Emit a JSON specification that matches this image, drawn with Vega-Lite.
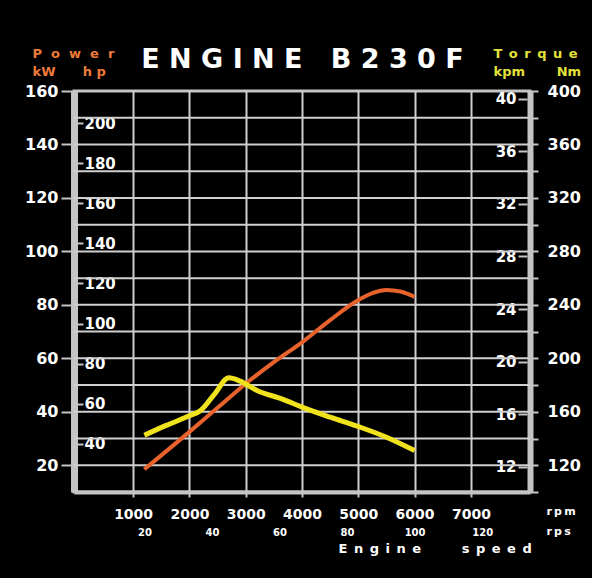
{
  "$schema": "https://vega.github.io/schema/vega-lite/v6.json",
  "width": 456,
  "height": 401,
  "autosize": {"type": "none"},
  "padding": {"left": 74, "top": 91, "right": 62, "bottom": 86},
  "background": "#000000",
  "view": {"stroke": "#c4c4c4", "strokeWidth": 3},
  "config": {
    "axis": {
      "labelFont": "DejaVu Sans",
      "labelFontWeight": "bold",
      "labelColor": "#ffffff",
      "titleFont": "DejaVu Sans",
      "titleFontWeight": "bold",
      "labelFlush": false,
      "labelOverlap": false,
      "tickColor": "#c4c4c4",
      "tickWidth": 2,
      "domainColor": "#c4c4c4",
      "gridColor": "#cfcfcf",
      "gridWidth": 2,
      "gridOpacity": 1,
      "titleLimit": 1000,
      "titlePadding": 0
    }
  },
  "datasets": {
    "gridlines": [
      {"kW": 20}, {"kW": 30}, {"kW": 40}, {"kW": 50}, {"kW": 60}, {"kW": 70}, {"kW": 80},
      {"kW": 90}, {"kW": 100}, {"kW": 110}, {"kW": 120}, {"kW": 130}, {"kW": 140}, {"kW": 150}
    ],
    "power": [
      {"rpm": 1200, "kW": 18.5},
      {"rpm": 2000, "kW": 32.5},
      {"rpm": 2500, "kW": 41.5},
      {"rpm": 3000, "kW": 50.5},
      {"rpm": 3500, "kW": 58.6},
      {"rpm": 4000, "kW": 66},
      {"rpm": 4500, "kW": 74.3},
      {"rpm": 5000, "kW": 81.8},
      {"rpm": 5250, "kW": 84.4},
      {"rpm": 5500, "kW": 85.6},
      {"rpm": 5750, "kW": 85},
      {"rpm": 6000, "kW": 83}
    ],
    "torque": [
      {"rpm": 1200, "Nm": 142.5},
      {"rpm": 1600, "Nm": 150},
      {"rpm": 2000, "Nm": 157},
      {"rpm": 2200, "Nm": 161},
      {"rpm": 2450, "Nm": 173.5},
      {"rpm": 2700, "Nm": 185.5},
      {"rpm": 2900, "Nm": 183},
      {"rpm": 3200, "Nm": 176},
      {"rpm": 3650, "Nm": 169.5},
      {"rpm": 4000, "Nm": 163.5},
      {"rpm": 4500, "Nm": 156},
      {"rpm": 5000, "Nm": 149},
      {"rpm": 5500, "Nm": 141},
      {"rpm": 6000, "Nm": 131}
    ]
  },
  "layer": [
    {
      "data": {"name": "gridlines"},
      "mark": {"type": "rule", "color": "#cfcfcf", "strokeWidth": 2},
      "encoding": {
        "x": {"datum": -50, "type": "quantitative", "scale": {"domain": [-50, 8050], "nice": false, "zero": false}, "axis": null},
        "x2": {"datum": 8050},
        "y": {
          "field": "kW", "type": "quantitative",
          "scale": {"domain": [10, 160], "nice": false, "zero": false},
          "axis": null
        }
      }
    },
    {
      "data": {"name": "power"},
      "mark": {"type": "line", "color": "#e8622c", "strokeWidth": 4, "interpolate": "monotone"},
      "encoding": {
        "x": {
          "field": "rpm", "type": "quantitative",
          "scale": {"domain": [-50, 8050], "nice": false, "zero": false},
          "axis": {
            "orient": "bottom", "values": [1000, 2000, 3000, 4000, 5000, 6000, 7000], "format": "d",
            "grid": true, "tickSize": 5, "domainWidth": 4, "labelFontSize": 14, "labelPadding": 10,
            "title": "r\u2009p\u2009m", "titleX": 472, "titleY": 22, "titleAlign": "left",
            "titleBaseline": "alphabetic", "titleFontSize": 11, "titleColor": "#ffffff", "titleAngle": 0
          }
        },
        "y": {
          "field": "kW", "type": "quantitative",
          "scale": {"domain": [10, 160], "nice": false, "zero": false},
          "axis": {
            "orient": "left",
            "values": [20, 40, 60, 80, 100, 120, 140, 160],
            "grid": false, "tickSize": 13, "domainWidth": 7, "labelFontSize": 16, "labelPadding": 3,
            "title": ["P\u00a0\u00a0o\u00a0\u00a0w\u00a0\u00a0e\u00a0\u00a0r", "kW\u00a0\u00a0\u00a0\u00a0\u00a0\u00a0h\u00a0p"],
            "titleX": -42, "titleY": -34, "titleAlign": "left", "titleBaseline": "alphabetic",
            "titleAngle": 0, "titleFontSize": 13, "titleColor": "#f07a3a", "titleLineHeight": 18
          }
        }
      }
    },
    {
      "data": {"name": "torque"},
      "mark": {"type": "line", "color": "#f0e21c", "strokeWidth": 5, "interpolate": "monotone"},
      "encoding": {
        "x": {
          "field": "rpm", "type": "quantitative",
          "scale": {"domain": [-50, 8050], "nice": false, "zero": false},
          "axis": {
            "orient": "bottom", "values": [1200, 2400, 3600, 4800, 6000, 7200],
            "labelExpr": "format(datum.value / 60, 'd')",
            "domain": false, "ticks": false, "grid": false, "labelPadding": 35, "labelFontSize": 10,
            "title": ["r\u2009p\u2009s"], "titleX": 472, "titleY": 42, "titleAlign": "left",
            "titleBaseline": "alphabetic", "titleFontSize": 11, "titleColor": "#ffffff", "titleAngle": 0
          }
        },
        "y": {
          "field": "Nm", "type": "quantitative",
          "scale": {"domain": [100, 400], "nice": false, "zero": false},
          "axis": {
            "orient": "right",
            "values": [100, 120, 140, 160, 180, 200, 220, 240, 260, 280, 300, 320, 340, 360, 380, 400],
            "labelExpr": "datum.value % 40 == 0 ? datum.label : ''",
            "grid": false, "tickSize": 8, "domainWidth": 6, "labelFontSize": 16, "labelPadding": 9,
            "title": ["T\u2002o\u2002r\u2002q\u2002u\u2002e", "kpm\u00a0\u00a0\u00a0\u00a0\u00a0\u00a0\u00a0Nm"],
            "titleX": -37, "titleY": -34, "titleAlign": "left", "titleBaseline": "alphabetic",
            "titleAngle": 0, "titleFontSize": 13, "titleColor": "#e4e23a", "titleLineHeight": 18
          }
        }
      }
    },
    {
      "data": {"values": [{"axis": "hp"}]},
      "mark": {"type": "rule", "opacity": 0},
      "encoding": {
        "y": {
          "datum": 100, "type": "quantitative",
          "scale": {"domain": [16, 216], "nice": false, "zero": false},
          "axis": {
            "orient": "left", "offset": -1, "values": [40, 60, 80, 100, 120, 140, 160, 180, 200],
            "domain": false, "grid": false, "tickSize": -8, "labelAlign": "left", "labelPadding": -1,
            "labelFontSize": 15,
            "title": "E\u00a0N\u00a0G\u00a0I\u00a0N\u00a0E\u00a0\u00a0\u00a0B\u00a02\u00a03\u00a00\u00a0F",
            "titleX": 227, "titleY": -24, "titleAlign": "center", "titleBaseline": "alphabetic",
            "titleAngle": 0, "titleFontSize": 27, "titleColor": "#ffffff"
          }
        }
      }
    },
    {
      "data": {"values": [{"axis": "kpm"}]},
      "mark": {"type": "rule", "opacity": 0},
      "encoding": {
        "y": {
          "datum": 20, "type": "quantitative",
          "scale": {"domain": [10.1, 40.57], "nice": false, "zero": false},
          "axis": {
            "orient": "right", "offset": -3, "values": [12, 16, 20, 24, 28, 32, 36, 40],
            "domain": false, "grid": false, "tickSize": -9, "labelAlign": "right", "labelPadding": -2,
            "labelFontSize": 15, "title": null
          }
        }
      }
    },
    {
      "data": {"values": [{"axis": "speed"}]},
      "mark": {"type": "rule", "opacity": 0},
      "encoding": {
        "x": {
          "datum": 3600, "type": "quantitative",
          "scale": {"domain": [-50, 8050], "nice": false, "zero": false},
          "axis": {
            "orient": "bottom", "labels": false, "ticks": false, "domain": false, "grid": false,
            "title": "E\u2002n\u2002g\u2002i\u2002n\u2002e\u00a0\u00a0\u00a0\u00a0\u00a0\u00a0\u00a0\u00a0\u00a0s\u2002p\u2002e\u2002e\u2002d",
            "titleX": 264, "titleY": 60, "titleAlign": "left", "titleBaseline": "alphabetic",
            "titleFontSize": 13, "titleColor": "#ffffff", "titleAngle": 0
          }
        }
      }
    }
  ],
  "resolve": {"scale": {"x": "shared", "y": "independent"}, "axis": {"x": "independent", "y": "independent"}}
}
